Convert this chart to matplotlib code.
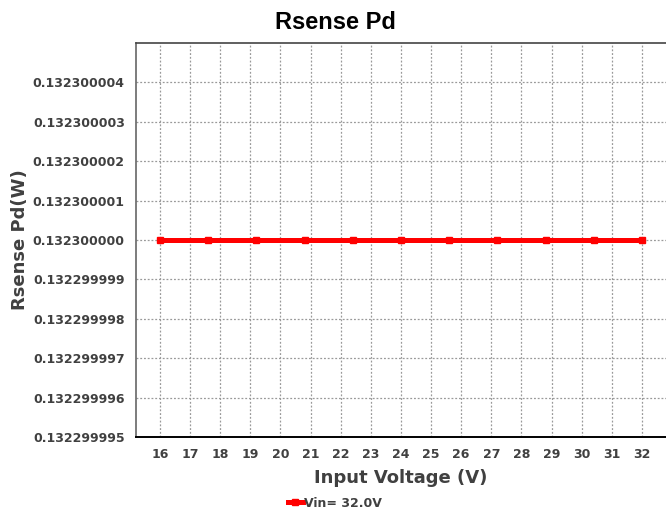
import matplotlib
matplotlib.use("Agg")
from matplotlib import pyplot as plt
from matplotlib.ticker import FixedLocator, FuncFormatter

# data
vin = [16.0, 17.6, 19.2, 20.8, 22.4, 24.0, 25.6, 27.2, 28.8, 30.4, 32.0]
pd_w = [0.1323] * 11
x_ticks = list(range(16, 33))
y_ticks = [0.132299995, 0.132299996, 0.132299997, 0.132299998, 0.132299999,
           0.132300000, 0.132300001, 0.132300002, 0.132300003, 0.132300004]
series_name = "Vin= 32.0V"

label_gray = "#404040"

fig = plt.figure(figsize=(6.66, 5.15), dpi=100)
ax = fig.add_axes([0.204, 0.1515, 0.796, 0.765])

ax.plot(vin, pd_w, color="#ff0000", linewidth=3.6, marker="s", markersize=5,
        label=series_name, zorder=3)

ax.set_xlim(15.2, 32.8)
ax.set_ylim(0.132299995, 0.132300005)
ax.xaxis.set_major_locator(FixedLocator(x_ticks))
ax.yaxis.set_major_locator(FixedLocator(y_ticks))
ax.yaxis.set_major_formatter(FuncFormatter(lambda v, p: "%.9f" % v))
ax.xaxis.set_major_formatter(FuncFormatter(lambda v, p: "%d" % round(v)))

ax.grid(True, linestyle=(0, (1.5, 1.5)), color="#999999", linewidth=0.9)
ax.set_axisbelow(True)
ax.tick_params(length=0, pad=8, labelsize=9, labelcolor=label_gray)
for t in ax.get_xticklabels() + ax.get_yticklabels():
    t.set_fontweight("bold")

ax.spines["right"].set_visible(False)
ax.spines["top"].set_color("#444444")
ax.spines["top"].set_linewidth(1.2)
ax.spines["left"].set_color("#666666")
ax.spines["left"].set_linewidth(1.2)
ax.spines["bottom"].set_color("#000000")
ax.spines["bottom"].set_linewidth(1.4)

fig.text(0.503, 0.957, "Rsense Pd", ha="center", va="center", fontsize=17,
         fontweight="bold", family="Liberation Sans", color="black")
ax.set_xlabel("Input Voltage (V)", fontsize=13, fontweight="bold",
              color=label_gray, labelpad=6)
ax.set_ylabel("Rsense Pd(W)", fontsize=13, fontweight="bold",
              color=label_gray, labelpad=3)

leg = fig.legend(loc="center", bbox_to_anchor=(0.503, 0.023), frameon=False,
                 fontsize=9, handlelength=1.2, handletextpad=0.1,
                 borderaxespad=0)
for t in leg.get_texts():
    t.set_fontweight("bold")
    t.set_color(label_gray)

fig.savefig("out.png", dpi=100)
